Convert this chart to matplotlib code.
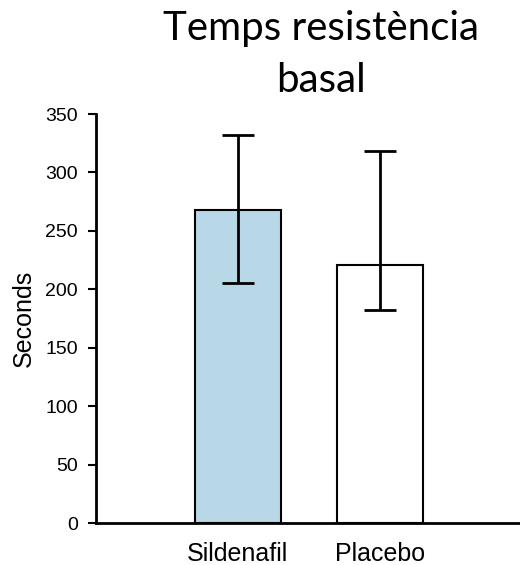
import numpy as np
import matplotlib
matplotlib.use("Agg")
import matplotlib.pyplot as plt

groups = ["Sildenafil", "Placebo"]
means = [268, 221]
err_hi = [332, 318]   # top of whisker
err_lo = [205, 182]   # bottom of whisker
colors = ["#b8d8e8", "#ffffff"]

x = np.arange(len(groups))
yerr = np.array([[m - lo for m, lo in zip(means, err_lo)],
                 [hi - m for m, hi in zip(means, err_hi)]])

fig = plt.figure(figsize=(5.2, 5.65), dpi=100)
ax = fig.add_axes([0.1846, 0.0743, 0.8154, 0.7239])

ax.bar(x, means, width=0.605, color=colors, edgecolor="black", linewidth=1.5, zorder=2)
ax.errorbar(x, means, yerr=yerr, fmt="none", ecolor="black", elinewidth=2,
            capsize=11.5, capthick=2, zorder=3)

ax.set_xlim(-1, 1.99)
ax.set_ylim(0, 350)
ax.set_yticks(range(0, 351, 50))
ax.set_xticks(x)
ax.set_xticklabels(groups, family="Liberation Sans", fontsize=18)
for t in ax.get_yticklabels():
    t.set_family("Liberation Sans")
    t.set_fontsize(14)
ax.tick_params(axis="x", length=0, pad=14)
ax.tick_params(axis="y", direction="out", length=6, width=1.5, pad=7)

for s in ["top", "right"]:
    ax.spines[s].set_visible(False)
ax.spines["left"].set_linewidth(2)
ax.spines["bottom"].set_linewidth(2)

ax.set_ylabel("Seconds", family="Liberation Sans", fontsize=18, labelpad=7)

fig.text(0.617, 0.9044, "Temps resistència\nbasal", ha="center", va="center",
         family="Lato", fontsize=29, linespacing=1.5)

fig.savefig("out.png", dpi=100)
